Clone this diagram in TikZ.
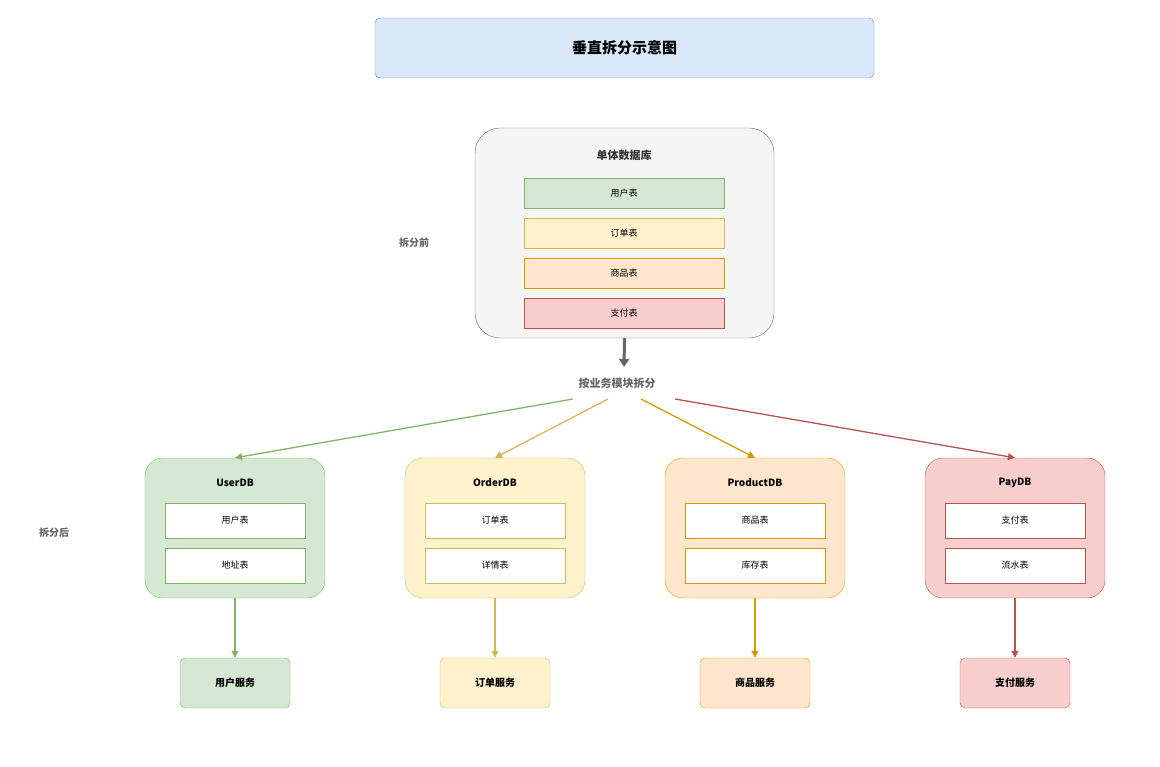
\documentclass[tikz,border=0pt]{standalone}
\usepackage{fontspec}
\setmainfont{Noto Sans CJK SC}
\usetikzlibrary{arrows.meta}
\definecolor{gF}{HTML}{D5E8D4}\definecolor{gS}{HTML}{82B366}
\definecolor{yF}{HTML}{FFF2CC}\definecolor{yS}{HTML}{D6B656}
\definecolor{oF}{HTML}{FFE6CC}\definecolor{oS}{HTML}{D79B00}
\definecolor{rF}{HTML}{F8CECC}\definecolor{rS}{HTML}{B85450}
\definecolor{bF}{HTML}{DAE8FC}\definecolor{bS}{HTML}{6C8EBF}
\definecolor{tx}{HTML}{666666}
\begin{document}
\begin{tikzpicture}[x=1pt,y=-1pt,
  tbl/.style={draw=#1S,fill=#1F,minimum width=200pt,minimum height=30pt,font=\fontsize{9}{9}\selectfont},
  db/.style={draw=#1S,fill=#1F,rounded corners=18pt,minimum width=180pt,minimum height=140pt},
  inner/.style={draw=#1S,fill=white,minimum width=140pt,minimum height=35pt,font=\fontsize{9}{9}\selectfont},
  svc/.style={draw=#1S,fill=#1F,rounded corners=5pt,minimum width=110pt,minimum height=50pt,font=\bfseries\fontsize{10}{10}\selectfont},
  arr/.style={draw=#1S,line width=1.3pt,-{Triangle[length=7pt,width=7pt]}},
  lbl/.style={text=tx,font=\bfseries\fontsize{10}{10}\selectfont}]
\useasboundingbox (0,0) rectangle (1160,767);
\node[draw=bS,fill=bF,rounded corners=5pt,minimum width=499pt,minimum height=60pt,font=\bfseries\fontsize{15}{15}\selectfont] (title) at (624.5,48) {垂直拆分示意图};
\node[draw=tx,fill=black!4,rounded corners=25pt,minimum width=299pt,minimum height=210pt] (mono) at (624.5,233) {};
\node[font=\bfseries\fontsize{11}{11}\selectfont,text=black!80] (monot) at (624,155) {单体数据库};
\node[tbl=g] (t1) at (624,193) {用户表};
\node[tbl=y] (t2) at (624,233) {订单表};
\node[tbl=o] (t3) at (624,273) {商品表};
\node[tbl=r] (t4) at (624,313) {支付表};
\node[lbl] (before) at (414,243) {拆分前};
\node[lbl] (after) at (54,533) {拆分后};
\node[lbl,font=\bfseries\fontsize{11}{11}\selectfont] (split) at (617,383) {按业务模块拆分};
\draw[draw=tx,line width=3pt,-{Triangle[length=8pt,width=10pt]}] (mono.south) -- (624,367);
\foreach \c/\x/\n/\a/\b/\s/\sx in {g/235/UserDB/用户表/地址表/用户服务/573, y/495/OrderDB/订单表/详情表/订单服务/608, o/755/ProductDB/商品表/库存表/商品服务/641, r/1015/PayDB/支付表/流水表/支付服务/675}{
  \node[db=\c] (db\c) at (\x,528) {};
  \node[font=\bfseries\fontsize{10}{10}\selectfont] (h\c) at (\x,483) {\n};
  \node[inner=\c] (ia\c) at (\x,520.5) {\a};
  \node[inner=\c] (ib\c) at (\x,565.5) {\b};
  \node[svc=\c] (s\c) at (\x,683) {\s};
  \coordinate (from\c) at (\sx,399);
  \draw[arr=\c] (from\c) -- (db\c.north);
  \draw[arr=\c] (db\c.south) -- (s\c.north);
}
\end{tikzpicture}
\end{document}
